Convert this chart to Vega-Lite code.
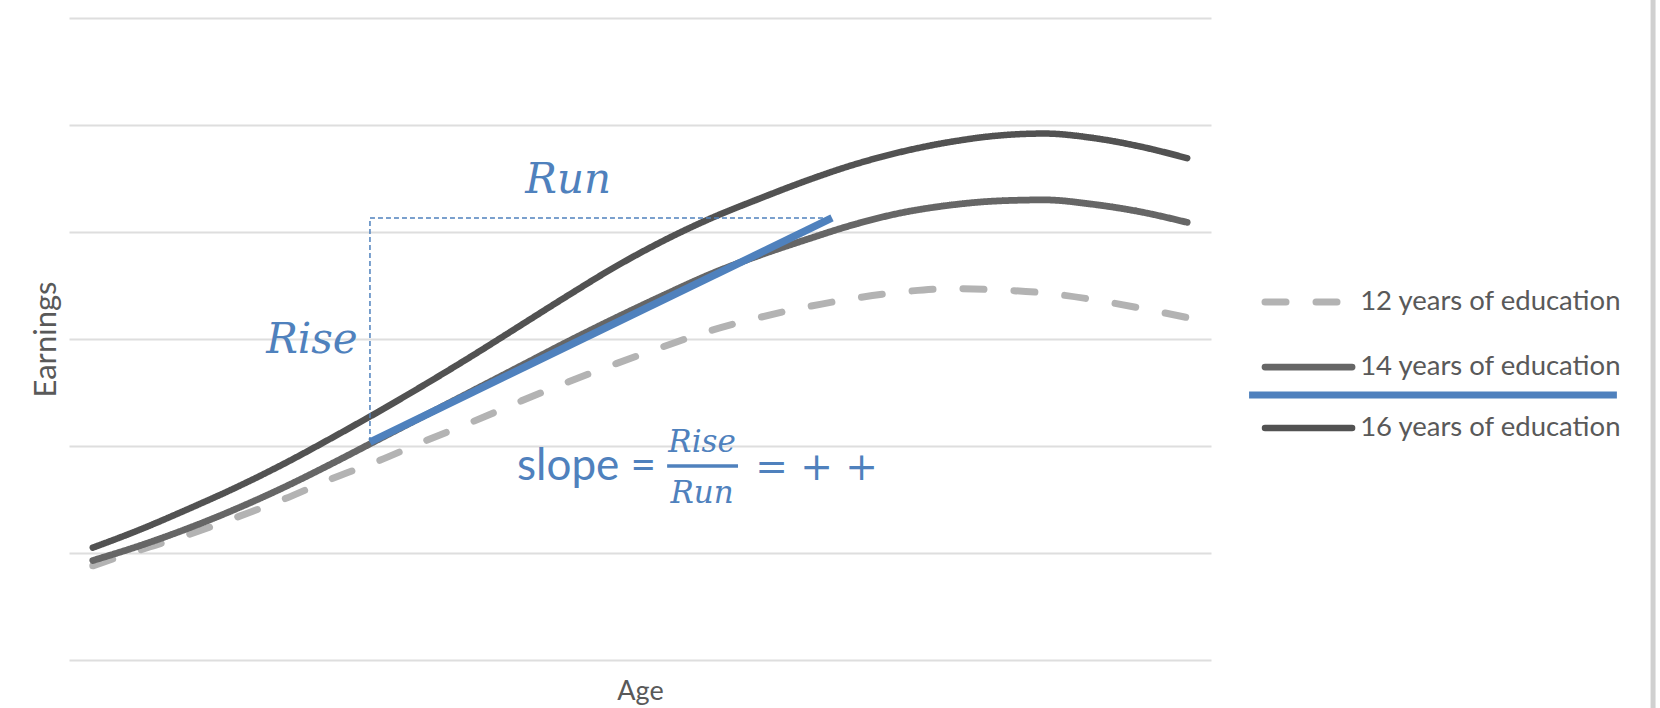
{
  "$schema": "https://vega.github.io/schema/vega-lite/v6.json",
  "width": 1142,
  "height": 642,
  "autosize": {"type": "none"},
  "padding": {"left": 69, "top": 18, "right": 449, "bottom": 48},
  "background": "white",
  "config": {"view": {"stroke": null}, "font": "Lato"},
  "datasets": {
    "earnings": [
      {"Age": 18, "Series": "12 years of education", "Earnings": 0.88},
      {"Age": 20, "Series": "12 years of education", "Earnings": 1.03},
      {"Age": 22, "Series": "12 years of education", "Earnings": 1.17},
      {"Age": 24, "Series": "12 years of education", "Earnings": 1.33},
      {"Age": 26, "Series": "12 years of education", "Earnings": 1.5},
      {"Age": 28, "Series": "12 years of education", "Earnings": 1.69},
      {"Age": 30, "Series": "12 years of education", "Earnings": 1.86},
      {"Age": 32, "Series": "12 years of education", "Earnings": 2.05},
      {"Age": 34, "Series": "12 years of education", "Earnings": 2.23},
      {"Age": 36, "Series": "12 years of education", "Earnings": 2.42},
      {"Age": 38, "Series": "12 years of education", "Earnings": 2.6},
      {"Age": 40, "Series": "12 years of education", "Earnings": 2.77},
      {"Age": 42, "Series": "12 years of education", "Earnings": 2.93},
      {"Age": 44, "Series": "12 years of education", "Earnings": 3.08},
      {"Age": 46, "Series": "12 years of education", "Earnings": 3.2},
      {"Age": 48, "Series": "12 years of education", "Earnings": 3.3},
      {"Age": 50, "Series": "12 years of education", "Earnings": 3.38},
      {"Age": 52, "Series": "12 years of education", "Earnings": 3.44},
      {"Age": 54, "Series": "12 years of education", "Earnings": 3.47},
      {"Age": 56, "Series": "12 years of education", "Earnings": 3.46},
      {"Age": 58, "Series": "12 years of education", "Earnings": 3.43},
      {"Age": 60, "Series": "12 years of education", "Earnings": 3.37},
      {"Age": 62, "Series": "12 years of education", "Earnings": 3.29},
      {"Age": 64, "Series": "12 years of education", "Earnings": 3.2},
      {"Age": 18, "Series": "14 years of education", "Earnings": 0.93},
      {"Age": 20, "Series": "14 years of education", "Earnings": 1.07},
      {"Age": 22, "Series": "14 years of education", "Earnings": 1.23},
      {"Age": 24, "Series": "14 years of education", "Earnings": 1.41},
      {"Age": 26, "Series": "14 years of education", "Earnings": 1.61},
      {"Age": 28, "Series": "14 years of education", "Earnings": 1.83},
      {"Age": 30, "Series": "14 years of education", "Earnings": 2.06},
      {"Age": 32, "Series": "14 years of education", "Earnings": 2.29},
      {"Age": 34, "Series": "14 years of education", "Earnings": 2.52},
      {"Age": 36, "Series": "14 years of education", "Earnings": 2.75},
      {"Age": 38, "Series": "14 years of education", "Earnings": 2.98},
      {"Age": 40, "Series": "14 years of education", "Earnings": 3.2},
      {"Age": 42, "Series": "14 years of education", "Earnings": 3.41},
      {"Age": 44, "Series": "14 years of education", "Earnings": 3.61},
      {"Age": 46, "Series": "14 years of education", "Earnings": 3.78},
      {"Age": 48, "Series": "14 years of education", "Earnings": 3.93},
      {"Age": 50, "Series": "14 years of education", "Earnings": 4.07},
      {"Age": 52, "Series": "14 years of education", "Earnings": 4.18},
      {"Age": 54, "Series": "14 years of education", "Earnings": 4.25},
      {"Age": 56, "Series": "14 years of education", "Earnings": 4.29},
      {"Age": 58, "Series": "14 years of education", "Earnings": 4.3},
      {"Age": 60, "Series": "14 years of education", "Earnings": 4.26},
      {"Age": 62, "Series": "14 years of education", "Earnings": 4.19},
      {"Age": 64, "Series": "14 years of education", "Earnings": 4.09},
      {"Age": 18, "Series": "16 years of education", "Earnings": 1.05},
      {"Age": 20, "Series": "16 years of education", "Earnings": 1.22},
      {"Age": 22, "Series": "16 years of education", "Earnings": 1.41},
      {"Age": 24, "Series": "16 years of education", "Earnings": 1.61},
      {"Age": 26, "Series": "16 years of education", "Earnings": 1.83},
      {"Age": 28, "Series": "16 years of education", "Earnings": 2.07},
      {"Age": 30, "Series": "16 years of education", "Earnings": 2.32},
      {"Age": 32, "Series": "16 years of education", "Earnings": 2.58},
      {"Age": 34, "Series": "16 years of education", "Earnings": 2.85},
      {"Age": 36, "Series": "16 years of education", "Earnings": 3.13},
      {"Age": 38, "Series": "16 years of education", "Earnings": 3.41},
      {"Age": 40, "Series": "16 years of education", "Earnings": 3.68},
      {"Age": 42, "Series": "16 years of education", "Earnings": 3.92},
      {"Age": 44, "Series": "16 years of education", "Earnings": 4.13},
      {"Age": 46, "Series": "16 years of education", "Earnings": 4.31},
      {"Age": 48, "Series": "16 years of education", "Earnings": 4.48},
      {"Age": 50, "Series": "16 years of education", "Earnings": 4.63},
      {"Age": 52, "Series": "16 years of education", "Earnings": 4.75},
      {"Age": 54, "Series": "16 years of education", "Earnings": 4.84},
      {"Age": 56, "Series": "16 years of education", "Earnings": 4.9},
      {"Age": 58, "Series": "16 years of education", "Earnings": 4.92},
      {"Age": 60, "Series": "16 years of education", "Earnings": 4.88},
      {"Age": 62, "Series": "16 years of education", "Earnings": 4.8},
      {"Age": 64, "Series": "16 years of education", "Earnings": 4.69}
    ],
    "tangent": [{"Age": 29.65, "Earnings": 2.037, "Age2": 49.07, "Earnings2": 4.131}],
    "guides": [
      {"Age": 29.65, "Earnings": 2.037, "Age2": 29.65, "Earnings2": 4.131},
      {"Age": 29.65, "Earnings": 4.131, "Age2": 49.07, "Earnings2": 4.131}
    ],
    "bigLabels": [
      {"label": "Run", "Age": 37.98, "Earnings": 4.364},
      {"label": "Rise", "Age": 27.21, "Earnings": 2.869}
    ],
    "fraction": [
      {"label": "Rise", "Age": 43.61, "Earnings": 1.944},
      {"label": "Run", "Age": 43.61, "Earnings": 1.467}
    ],
    "fractionBar": [{"Age": 42.14, "Age2": 45.12, "Earnings": 1.813}],
    "slopeText": [{"label": "slope =", "Age": 35.83, "Earnings": 1.682}],
    "mathText": [{"label": "= + +", "Age": 45.84, "Earnings": 1.682}],
    "legendRows": [
      {"Series": "12 years of education", "Age": 67.27, "Age2": 70.93, "Earnings": 3.346},
      {"Series": "14 years of education", "Age": 67.27, "Age2": 70.93, "Earnings": 2.738},
      {"Series": "16 years of education", "Age": 67.27, "Age2": 70.93, "Earnings": 2.168}
    ],
    "legendLabels": [
      {"Series": "12 years of education", "Age": 71.27, "Earnings": 3.346},
      {"Series": "14 years of education", "Age": 71.27, "Earnings": 2.738},
      {"Series": "16 years of education", "Age": 71.27, "Earnings": 2.168}
    ],
    "legendMark": [{"Age": 66.6, "Age2": 82.06, "Earnings": 2.477}],
    "frame": [{"Age": 83.58, "Earnings": 6.2, "Earnings2": -0.5}]
  },
  "encoding": {
    "x": {
      "field": "Age",
      "type": "quantitative",
      "scale": {"domain": [17, 65], "nice": false, "zero": false},
      "axis": {
        "title": "Age",
        "labels": false,
        "ticks": false,
        "domain": false,
        "grid": false,
        "titleFont": "Lato",
        "titleFontSize": 27,
        "titleFontWeight": "normal",
        "titleColor": "#595959",
        "titlePadding": 18
      }
    },
    "y": {
      "field": "Earnings",
      "type": "quantitative",
      "scale": {"domain": [0, 6], "nice": false},
      "axis": {
        "title": "Earnings",
        "values": [0, 1, 2, 3, 4, 5, 6],
        "labels": false,
        "ticks": false,
        "domain": false,
        "grid": true,
        "gridColor": "#dedede",
        "gridWidth": 2,
        "titleFont": "Lato",
        "titleFontSize": 31,
        "titleFontWeight": "normal",
        "titleColor": "#595959",
        "titlePadding": 7
      }
    }
  },
  "layer": [
    {
      "data": {"name": "earnings"},
      "mark": {"type": "line", "interpolate": "monotone", "strokeCap": "round"},
      "encoding": {
        "color": {
          "field": "Series",
          "type": "nominal",
          "scale": {
            "domain": ["12 years of education", "14 years of education", "16 years of education"],
            "range": ["#b3b3b3", "#666666", "#525252"]
          },
          "legend": null
        },
        "strokeDash": {
          "field": "Series",
          "type": "nominal",
          "scale": {
            "domain": ["12 years of education", "14 years of education", "16 years of education"],
            "range": [[21, 30], [1, 0], [1, 0]]
          },
          "legend": null
        },
        "strokeWidth": {
          "field": "Series",
          "type": "nominal",
          "scale": {
            "domain": ["12 years of education", "14 years of education", "16 years of education"],
            "range": [7, 6.5, 6.5]
          },
          "legend": null
        }
      }
    },
    {
      "data": {"name": "guides"},
      "mark": {"type": "rule", "color": "#4f81bd", "strokeWidth": 1.5, "strokeDash": [5, 3]},
      "encoding": {
        "x2": {"field": "Age2"},
        "y2": {"field": "Earnings2"}
      }
    },
    {
      "data": {"name": "tangent"},
      "mark": {"type": "rule", "color": "#4f81bd", "strokeWidth": 7.5, "strokeCap": "butt"},
      "encoding": {
        "x2": {"field": "Age2"},
        "y2": {"field": "Earnings2"}
      }
    },
    {
      "data": {"name": "bigLabels"},
      "mark": {"type": "text", "font": "DejaVu Serif", "fontStyle": "italic", "fontSize": 42, "color": "#4f81bd", "align": "center", "baseline": "alphabetic"},
      "encoding": {"text": {"field": "label"}}
    },
    {
      "data": {"name": "fraction"},
      "mark": {"type": "text", "font": "DejaVu Serif", "fontStyle": "italic", "fontSize": 31, "color": "#4f81bd", "align": "center", "baseline": "alphabetic"},
      "encoding": {"text": {"field": "label"}}
    },
    {
      "data": {"name": "fractionBar"},
      "mark": {"type": "rule", "color": "#4f81bd", "strokeWidth": 3.5},
      "encoding": {"x2": {"field": "Age2"}}
    },
    {
      "data": {"name": "slopeText"},
      "mark": {"type": "text", "font": "Lato", "fontSize": 44, "color": "#4f81bd", "align": "left", "baseline": "alphabetic"},
      "encoding": {"text": {"field": "label"}}
    },
    {
      "data": {"name": "mathText"},
      "mark": {"type": "text", "font": "DejaVu Serif", "fontSize": 39, "color": "#4f81bd", "align": "left", "baseline": "alphabetic"},
      "encoding": {"text": {"field": "label"}}
    },
    {
      "data": {"name": "legendRows"},
      "mark": {"type": "rule", "strokeCap": "round"},
      "encoding": {
        "x2": {"field": "Age2"},
        "color": {"field": "Series", "type": "nominal", "legend": null},
        "strokeDash": {"field": "Series", "type": "nominal", "legend": null},
        "strokeWidth": {"field": "Series", "type": "nominal", "legend": null}
      }
    },
    {
      "data": {"name": "legendLabels"},
      "mark": {"type": "text", "font": "Lato", "fontSize": 27.5, "color": "#595959", "align": "left", "baseline": "middle"},
      "encoding": {"text": {"field": "Series"}}
    },
    {
      "data": {"name": "legendMark"},
      "mark": {"type": "rule", "color": "#4f81bd", "strokeWidth": 7},
      "encoding": {"x2": {"field": "Age2"}}
    },
    {
      "data": {"name": "frame"},
      "mark": {"type": "rule", "color": "#d0d0d0", "strokeWidth": 5},
      "encoding": {"y2": {"field": "Earnings2"}}
    }
  ]
}
